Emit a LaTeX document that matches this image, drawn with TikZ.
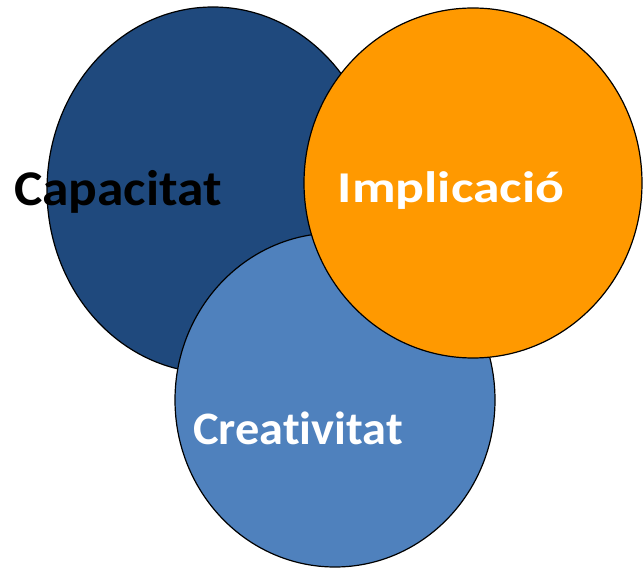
\documentclass[tikz,border=0pt]{standalone}
\usepackage{fontspec}
\setmainfont{Carlito}[Ligatures=NoCommon]
\definecolor{capblue}{HTML}{1F497D}
\definecolor{impor}{HTML}{FF9900}
\definecolor{crelb}{HTML}{4F81BD}
\begin{document}
\begin{tikzpicture}[x=1pt,y=-1pt,
  bubble/.style={draw=black,line width=1.2pt},
  lbl/.style={anchor=base,font=\bfseries,inner sep=0pt}]
\useasboundingbox (0,0) rectangle (643,569);
\fill[capblue,bubble] (213,190) ellipse [x radius=166,y radius=183];
\fill[crelb,bubble] (335,400) ellipse [x radius=160,y radius=167];
\fill[impor,bubble] (473,183) ellipse [x radius=169,y radius=175];
\node[lbl,text=black,font=\bfseries\fontsize{50}{50}\selectfont] (cap) at (118,206) {\scalebox{1.07}[1]{Capacitat}};
\node[lbl,text=white,font=\bfseries\fontsize{44}{44}\selectfont] (imp) at (451,203) {\scalebox{1.22}[1]{Implicació}};
\node[lbl,text=white,font=\bfseries\fontsize{46.5}{46.5}\selectfont] (cre) at (298,445) {\scalebox{1.04}[1]{Creativitat}};
\end{tikzpicture}
\end{document}
